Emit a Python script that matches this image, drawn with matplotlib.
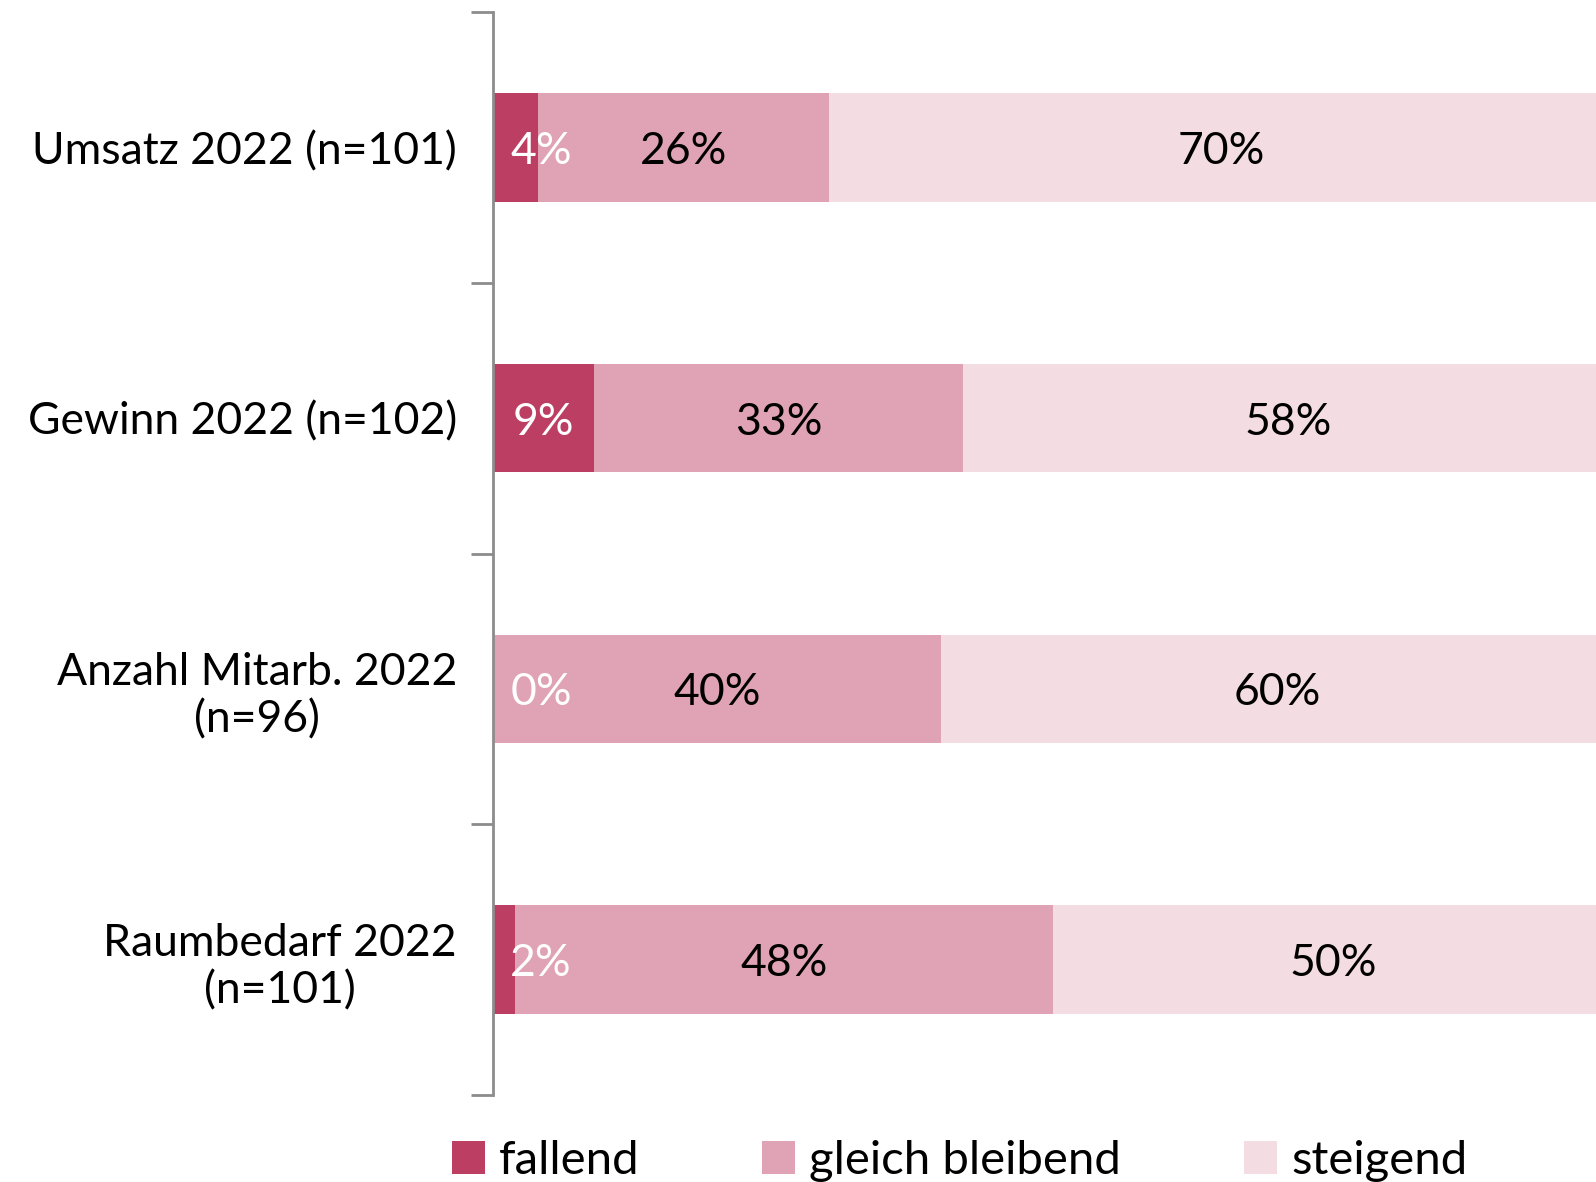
import matplotlib
matplotlib.use('Agg')
import numpy as np
import matplotlib.pyplot as plt
from matplotlib.ticker import FixedLocator, NullLocator

categories = ['Umsatz 2022 (n=101)', 'Gewinn 2022 (n=102)',
              'Anzahl Mitarb. 2022\n(n=96)', 'Raumbedarf 2022\n(n=101)']
fallend = [4, 9, 0, 2]
gleich = [26, 33, 40, 48]
steigend = [70, 58, 60, 50]
series_names = ['fallend', 'gleich bleibend', 'steigend']
colors = ['#BC3F63', '#DFA3B5', '#F3DCE2']
label_colors = ['white', 'black', 'black']

plt.rcParams['font.family'] = ['Lato', 'DejaVu Sans']

fig = plt.figure(figsize=(15.96, 11.82), dpi=100)
ax = fig.add_axes([493 / 1596, 1 - 1095 / 1182, 1120 / 1596, (1095 - 12) / 1182])

y = np.arange(len(categories))
left = np.zeros(len(categories))
for vals, name, col, lc in zip([fallend, gleich, steigend], series_names, colors, label_colors):
    vals = np.array(vals, dtype=float)
    ax.barh(y, vals, left=left, height=0.4, color=col, label=name)
    for yi, l, v in zip(y, left, vals):
        xc = l + v / 2
        if l == 0:
            xc = max(xc, 4.3)  # keep the small labels inside the plot
        ax.text(xc, yi + 0.015, f'{int(v)}%', ha='center', va='center',
                fontsize=32, color=lc)
    left += vals

ax.set_xlim(0, 100)
ax.set_ylim(len(categories) - 0.5, -0.5)
ax.set_yticks(y)
ax.set_yticklabels(categories, fontsize=32)
ax.yaxis.set_minor_locator(FixedLocator(np.arange(-0.5, len(categories), 1)))
ax.tick_params(axis='y', which='major', length=0, pad=26)
ax.tick_params(axis='y', which='minor', length=16, width=2, color='#8c8c8c')
for lab in ax.get_yticklabels():
    lab.set_horizontalalignment('right')
    lab.set_multialignment('center')
ax.xaxis.set_major_locator(NullLocator())
for s in ['top', 'right', 'bottom']:
    ax.spines[s].set_visible(False)
ax.spines['left'].set_color('#8c8c8c')
ax.spines['left'].set_linewidth(2)

fig.legend(loc='lower left', bbox_to_anchor=(409 / 1596, -0.036), ncol=3,
           frameon=False, fontsize=34, handlelength=0.7, handleheight=0.7,
           handletextpad=0.3, columnspacing=2.6)

fig.savefig('out.png', dpi=100)
